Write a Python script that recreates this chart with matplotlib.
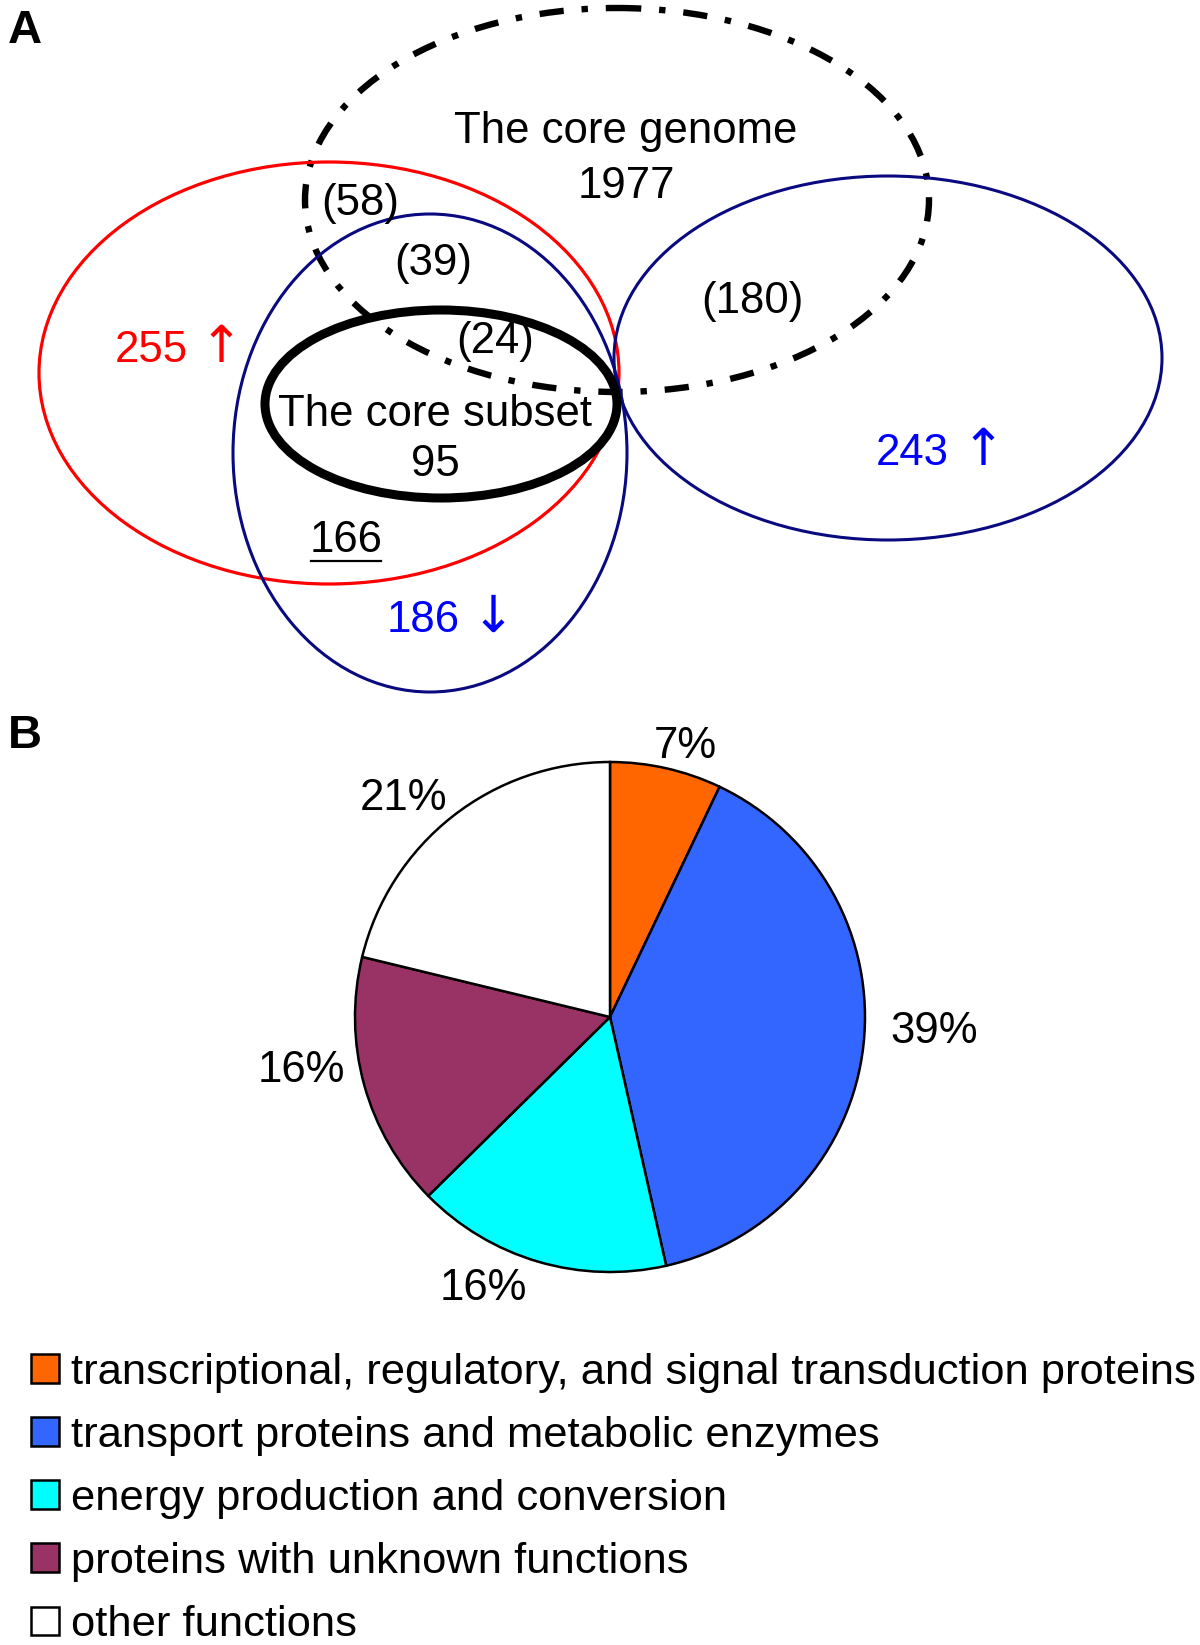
import numpy as np
import matplotlib.pyplot as plt
from matplotlib.patches import Ellipse

plt.rcParams['font.family'] = ['Liberation Sans', 'DejaVu Sans']
FS = 31.5

# ---- panel A data: region counts of the venn diagram
venn_text = ['The core genome', '1977', '(58)', '(39)', '(24)', '(180)',
             'The core subset', '95']
venn_tx = [626, 626, 360, 433, 495, 752, 435, 435]
venn_ty = [132, 186, 203, 264, 342, 301, 415, 464]

# counts with regulation arrows (up/down)
reg_counts = ['255', '243', '186']
reg_arrows = ['\u2191', '\u2191', '\u2193']
reg_color = ['#ff0000', '#0000ff', '#0000ff']
reg_right = [188, 949, 460]      # right edge of digits
reg_base = [362, 465, 632]       # baseline

shared_count = '166'             # underlined
shared_xy = (346, 541)

# ellipses (panel pixel coords, y down)
ell_cx = [617, 329, 430, 888, 441]
ell_cy = [200, 373, 453, 358, 404]
ell_w = [624, 580, 394, 548, 352]
ell_h = [384, 422, 478, 364, 188]
ell_col = ['black', '#ff0000', '#0a0a80', '#0a0a80', 'black']
ell_lw = [4.6, 2.3, 2.2, 2.2, 6.5]
ell_ls = [(0, (3.8, 2.8, 1, 2.8)), '-', '-', '-', '-']

# ---- panel B data: functional categories of the core subset
categories = ['transcriptional, regulatory, and signal transduction proteins',
              'transport proteins and metabolic enzymes',
              'energy production and conversion',
              'proteins with unknown functions',
              'other functions']
percents = [7, 39, 16, 16, 21]
pie_colors = ['#ff6600', '#3366ff', '#00ffff', '#993366', '#ffffff']
# label centres in pie radius units
lab_pos = [(0.294, 1.059), (1.27, -0.055), (-0.498, -1.063), (-1.212, -0.208), (-0.808, 0.855)]

W, H = 1200, 1645
fig = plt.figure(figsize=(W / 100, H / 100), dpi=100)

# panel A
axa = fig.add_axes([0, 1 - 700 / H, 1, 700 / H])
axa.set_xlim(0, W)
axa.set_ylim(700, 0)
axa.axis('off')
for i in range(len(ell_cx)):
    e = Ellipse((ell_cx[i], ell_cy[i]), ell_w[i], ell_h[i], fill=False,
                edgecolor=ell_col[i], lw=ell_lw[i], linestyle=ell_ls[i])
    axa.add_patch(e)
for i, t in enumerate(venn_text):
    axa.text(venn_tx[i], venn_ty[i], t, fontsize=FS, ha='center', va='center')
for i in range(len(reg_counts)):
    axa.text(reg_right[i], reg_base[i], reg_counts[i], color=reg_color[i], fontsize=FS,
             ha='right', va='baseline')
    axa.text(reg_right[i] + 12, reg_base[i], reg_arrows[i], color=reg_color[i], fontsize=37,
             ha='left', va='baseline', family='DejaVu Sans')
axa.text(shared_xy[0], shared_xy[1], shared_count, fontsize=FS, ha='center', va='center')
# underline under 166
axa.plot([shared_xy[0] - 35, shared_xy[0] + 35], [shared_xy[1] + 20, shared_xy[1] + 20],
         color='black', lw=1.6)

fig.text(8 / W, 1 - 31 / H, 'A', fontsize=34, fontweight='bold', va='center')
fig.text(8 / W, 1 - 736 / H, 'B', fontsize=34, fontweight='bold', va='center')

# panel B pie
cx, cy, r = 610, 1017, 255
axb = fig.add_axes([(cx - 300) / W, (H - cy - 300) / H, 600 / W, 600 / H])
wedges, texts = axb.pie(percents, colors=pie_colors, startangle=90, counterclock=False,
                        labels=[f'{p}%' for p in percents],
                        wedgeprops=dict(edgecolor='black', linewidth=1.8),
                        textprops=dict(fontsize=FS))
for t, p in zip(texts, lab_pos):
    t.set_position(p)
    t.set_ha('center')
    t.set_va('center')
axb.set_xlim(-300 / r, 300 / r)
axb.set_ylim(-300 / r, 300 / r)
axb.set_aspect('equal')

fig.legend(wedges, categories, loc='upper left', bbox_to_anchor=(31 / W, 1 - 1353 / H),
           frameon=False, fontsize=31.3, handlelength=0.64, handleheight=0.64,
           handletextpad=0.27, labelspacing=0.53, borderpad=0, borderaxespad=0)

fig.savefig('out.png', dpi=100, facecolor='white')
